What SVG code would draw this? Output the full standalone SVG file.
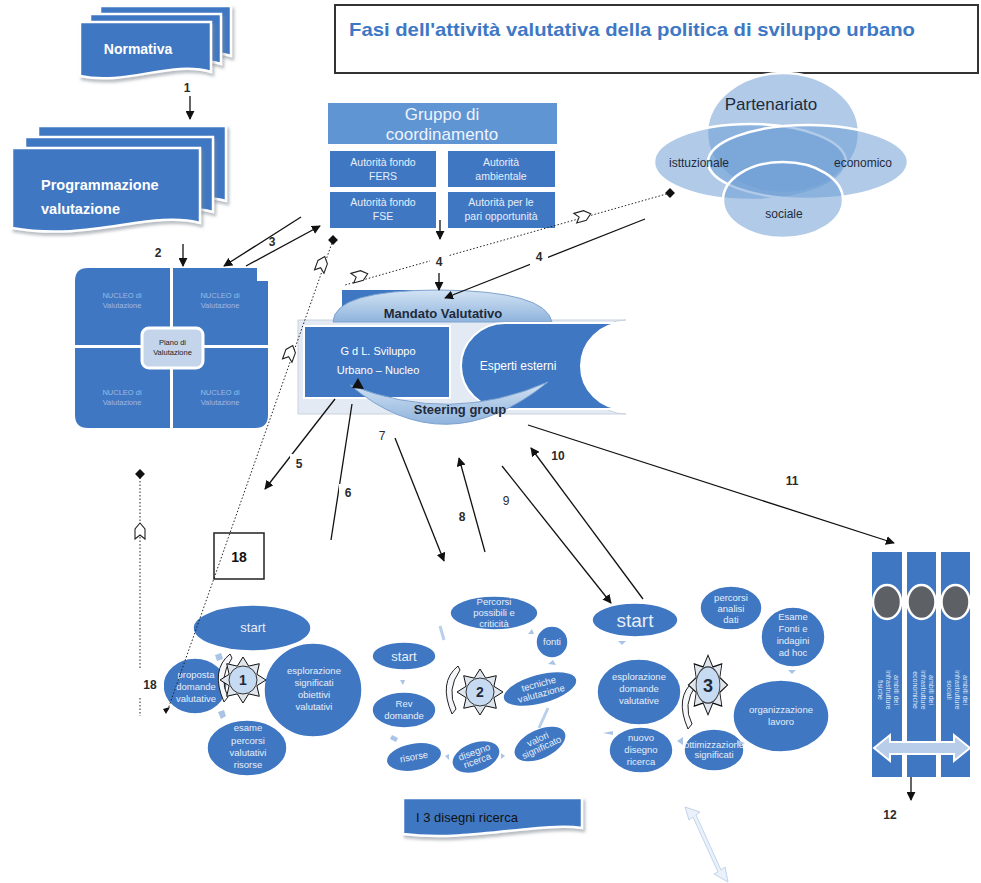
<svg xmlns="http://www.w3.org/2000/svg" width="981" height="883" viewBox="0 0 981 883">
<defs>
<style>
text{font-family:"Liberation Sans","DejaVu Sans",sans-serif}
.blue{fill:#3f77c2}
.doc{fill:#3f77c2;stroke:#ffffff;stroke-width:2.5;filter:url(#sh)}
.wt{fill:#ffffff;text-anchor:middle}
.wb{fill:#ffffff;font-weight:bold}
.lbl{fill:#2b2b2b;font-size:12px;font-weight:bold;text-anchor:middle}
.num{fill:#2b2b2b;font-size:12px;text-anchor:middle}
.ln{stroke:#111;stroke-width:1.3;fill:none}
.arr{marker-end:url(#ah)}
.dot{stroke:#222;stroke-width:1;stroke-dasharray:1.5 2;fill:none}
.cn{fill:#3f77c2;stroke:#ffffff;stroke-width:1.5}
.ct{fill:#e6eefa;font-size:9.5px;text-anchor:middle}
.par{fill:#6f9fd6;fill-opacity:0.55;stroke:#ffffff;stroke-width:2.5}
.nuc{fill:#3f77c2}
.nt{fill:#9dbbe6;font-size:7.5px;text-anchor:middle}
.faint{fill:#a9c4e6}
.chev{fill:#ffffff;stroke:#222;stroke-width:1.1}
</style>
<filter id="sh" x="-10%" y="-10%" width="130%" height="140%"><feDropShadow dx="2" dy="3" stdDeviation="1.5" flood-color="#7f8791" flood-opacity="0.55"/></filter>
<marker id="ah" viewBox="0 0 10 10" refX="9" refY="5" markerWidth="9" markerHeight="9" orient="auto" markerUnits="userSpaceOnUse"><path d="M0 0 L10 5 L0 10 Z" fill="#111"/></marker>
<polygon id="chv" points="-8,-5 2,-5 8,0 2,5 -8,5 -4,0" class="chev"/>
<rect id="dia" x="-3.5" y="-3.5" width="7" height="7" transform="rotate(45)" fill="#111"/>
<g id="sun">
<polygon points="23,0 13.9,5.7 16.3,16.3 5.7,13.9 0,23 -5.7,13.9 -16.3,16.3 -13.9,5.7 -23,0 -13.9,-5.7 -16.3,-16.3 -5.7,-13.9 0,-23 5.7,-13.9 16.3,-16.3 13.9,-5.7" fill="#dfe6ee" stroke="#111" stroke-width="1"/>
<circle r="14" fill="#c6daf1" stroke="#333" stroke-width="1"/>
</g>
<path id="crs" d="M0 -24 Q-20 -8 -6 24 L-2 19 Q-12 0 2 -20 Z" fill="#f4f6f9" stroke="#222" stroke-width="1"/>
<linearGradient id="bandg" x1="0" y1="0" x2="0" y2="1"><stop offset="0" stop-color="#d3e3f4"/><stop offset="1" stop-color="#8fb3dc"/></linearGradient>
</defs>

<rect width="981" height="883" fill="#ffffff"/>

<!-- Title -->
<g id="title">
<rect x="335" y="5" width="643" height="68" fill="#ffffff" stroke="#333" stroke-width="2"/>
<text x="349" y="36" font-size="19" font-weight="bold" fill="#3e78c5" textLength="566" lengthAdjust="spacingAndGlyphs">Fasi dell'attività valutativa della politica di sviluppo urbano</text>
</g>

<!-- Normativa -->
<g id="normativa">
<path class="doc" d="M100 6 H231 V56 C192 44 146 70 100 60 Z"/>
<path class="doc" d="M90 14 H221 V64 C182 52 136 78 90 68 Z"/>
<path class="doc" d="M80 22 H211 V72 C172 60 126 86 80 76 Z"/>
<text x="138" y="54" class="wb" font-size="14" text-anchor="middle">Normativa</text>
</g>

<!-- Programmazione -->
<g id="programmazione">
<path class="doc" d="M38 126 H226 V201 C176 188 116 220 38 206 Z"/>
<path class="doc" d="M25 137 H213 V212 C163 199 103 231 25 217 Z"/>
<path class="doc" d="M12 148 H200 V223 C150 210 90 242 12 228 Z"/>
<text x="41" y="190" class="wb" font-size="14.5">Programmazione</text>
<text x="41" y="214" class="wb" font-size="14.5">valutazione</text>
</g>

<!-- Nucleo grid -->
<g id="nucleo">
<path class="nuc" d="M75 281 Q75 268 88 268 H170 V345 H75 Z"/>
<path class="nuc" d="M173 268 H257 V281 H268 V345 H173 Z"/>
<path class="nuc" d="M75 348 H170 V428 H88 Q75 428 75 415 Z"/>
<path class="nuc" d="M173 348 H268 V415 Q268 428 255 428 H173 Z"/>
<text class="nt" x="122" y="298">NUCLEO di</text><text class="nt" x="122" y="308">Valutazione</text>
<text class="nt" x="220" y="298">NUCLEO di</text><text class="nt" x="220" y="308">Valutazione</text>
<text class="nt" x="122" y="395">NUCLEO di</text><text class="nt" x="122" y="405">Valutazione</text>
<text class="nt" x="220" y="395">NUCLEO di</text><text class="nt" x="220" y="405">Valutazione</text>
<rect x="142" y="328" width="61" height="40" rx="7" fill="#c3d4eb" stroke="#ffffff" stroke-width="3"/>
<text x="172.5" y="345" font-size="7.5" fill="#222" text-anchor="middle">Piano di</text>
<text x="172.5" y="355" font-size="7.5" fill="#222" text-anchor="middle">Valutazione</text>
</g>

<!-- Gruppo di coordinamento -->
<g id="gruppo">
<rect x="328" y="103" width="229" height="41" fill="#6095d4"/>
<text x="442" y="120" font-size="17" fill="#eef3fb" text-anchor="middle">Gruppo di</text>
<text x="442" y="140" font-size="17" fill="#eef3fb" text-anchor="middle">coordinamento</text>
<rect x="330" y="151" width="106" height="36" class="blue"/>
<rect x="448" y="151" width="107" height="36" class="blue"/>
<rect x="330" y="192" width="106" height="36" class="blue"/>
<rect x="448" y="192" width="107" height="36" class="blue"/>
<g class="ct">
<text x="383" y="166" font-size="10.5">Autorità fondo</text><text x="383" y="180" font-size="10.5">FERS</text>
<text x="501" y="166" font-size="10.5">Autorità</text><text x="501" y="180" font-size="10.5">ambientale</text>
<text x="383" y="206" font-size="10.5">Autorità fondo</text><text x="383" y="220" font-size="10.5">FSE</text>
<text x="501" y="206" font-size="10.5">Autorità per le</text><text x="501" y="220" font-size="10.5">pari opportunità</text>
</g>
</g>

<!-- Partenariato -->
<g id="partenariato">
<ellipse class="par" cx="783" cy="133" rx="76" ry="60"/>
<ellipse class="par" cx="750" cy="162" rx="96" ry="38"/>
<ellipse class="par" cx="808" cy="162" rx="100" ry="37"/>
<ellipse class="par" cx="783" cy="200" rx="60" ry="38"/>
<text x="771" y="110" font-size="17" fill="#1f2a3a" text-anchor="middle">Partenariato</text>
<text x="699" y="167" font-size="12" fill="#1f2a3a" text-anchor="middle">isttuzionale</text>
<text x="863" y="167" font-size="12" fill="#1f2a3a" text-anchor="middle">economico</text>
<text x="784" y="218" font-size="12" fill="#1f2a3a" text-anchor="middle">sociale</text>
</g>

<!-- Mandato / GdL / Esperti / Steering -->
<g id="mandato">
<path d="M298 320 H626 A45 47 0 0 0 626 414 H298 Z" fill="#e3eaf3" stroke="#c9d3df"/>
<rect x="342" y="290" width="76" height="32" class="blue"/>
<path d="M333 322 Q334 290 440 290 Q546 291 552 322 Z" fill="url(#bandg)" stroke="#7ea3cf" stroke-width="1"/>
<text x="443" y="318" font-size="13" font-weight="bold" fill="#1f2a3a" text-anchor="middle">Mandato Valutativo</text>
</g>
<g id="gdl">
<rect x="304" y="326" width="146" height="72" class="blue" stroke="#ffffff" stroke-width="2"/>
<text x="378" y="355" font-size="11" fill="#ffffff" text-anchor="middle">G d L. Sviluppo</text>
<text x="378" y="374" font-size="11" fill="#ffffff" text-anchor="middle">Urbano  – Nucleo</text>
</g>
<g id="esperti">
<path d="M505 323 H624 A43 43 0 0 0 624 409 H505 A44 43 0 0 1 505 323 Z" class="blue" stroke="#ffffff" stroke-width="2"/>
<text x="518" y="370" font-size="12" fill="#ffffff" text-anchor="middle">Esperti  esterni</text>
</g>
<g id="steering">
<path d="M350 385 Q445 465 548 382 Q450 425 350 385 Z" fill="url(#bandg)" stroke="#7ea3cf" stroke-width="1"/>
<path d="M352 388 L358 378 L364 389 Z" fill="#111"/>
<text x="460" y="414" font-size="13" font-weight="bold" fill="#1f2a3a" text-anchor="middle">Steering group</text>
</g>

<!-- Cycle 1 -->
<g id="cycle1">
<ellipse class="cn" cx="252" cy="628" rx="59" ry="23"/>
<ellipse class="cn" cx="195" cy="686" rx="32" ry="28"/>
<ellipse class="cn" cx="313" cy="690" rx="49" ry="47"/>
<ellipse class="cn" cx="247" cy="748" rx="40" ry="28"/>
<text x="253" y="632" font-size="13" fill="#e6eefa" text-anchor="middle">start</text>
<text class="ct" x="196" y="678">proposta</text><text class="ct" x="196" y="690">domande</text><text class="ct" x="196" y="702">valutative</text>
<text class="ct" x="314" y="674">esplorazione</text><text class="ct" x="314" y="686">significati</text><text class="ct" x="314" y="698">obiettivi</text><text class="ct" x="314" y="710">valutativi</text>
<text class="ct" x="248" y="731">esame</text><text class="ct" x="248" y="744">percorsi</text><text class="ct" x="248" y="756">valutativi</text><text class="ct" x="248" y="768">risorse</text>
<path class="faint" d="M215 655 l6 -2 l2 6 l-6 2 Z"/>
<path class="faint" d="M218 712 l6 -2 l2 6 l-5 3 Z"/>
<use href="#crs" x="230" y="678"/>
<use href="#sun" x="243" y="680"/>
<text x="243" y="685" font-size="14" font-weight="bold" fill="#1f2a3a" text-anchor="middle">1</text>
</g>

<!-- Cycle 2 -->
<g id="cycle2">
<ellipse class="cn" cx="494" cy="613" rx="44" ry="17"/>
<ellipse class="cn" cx="552" cy="642" rx="16" ry="16"/>
<ellipse class="cn" cx="404" cy="656" rx="32" ry="14"/>
<ellipse class="cn" cx="404" cy="710" rx="32" ry="18"/>
<ellipse class="cn" cx="540" cy="689" rx="38" ry="15" transform="rotate(-15 540 689)"/>
<ellipse class="cn" cx="540" cy="744" rx="28" ry="15" transform="rotate(-25 540 744)"/>
<ellipse class="cn" cx="476" cy="757" rx="25" ry="15" transform="rotate(-20 476 757)"/>
<ellipse class="cn" cx="414" cy="757" rx="28" ry="14" transform="rotate(-10 414 757)"/>
<text class="ct" x="494" y="605" font-size="8.5">Percorsi</text><text class="ct" x="494" y="616" font-size="8.5">possibili e</text><text class="ct" x="494" y="627" font-size="8.5">criticità</text>
<text class="ct" x="552" y="645" font-size="8.5">fonti</text>
<text x="404" y="661" font-size="13" fill="#e6eefa" text-anchor="middle">start</text>
<text class="ct" x="404" y="707">Rev</text><text class="ct" x="404" y="719">domande</text>
<g transform="rotate(-15 540 689)"><text class="ct" x="540" y="687" font-size="8.5">tecniche</text><text class="ct" x="540" y="697" font-size="8.5">valutazione</text></g>
<g transform="rotate(-25 540 744)"><text class="ct" x="540" y="742" font-size="7.5">valori</text><text class="ct" x="540" y="751" font-size="7.5">significato</text></g>
<g transform="rotate(-20 476 757)"><text class="ct" x="476" y="755" font-size="7.5">disegno</text><text class="ct" x="476" y="764" font-size="7.5">ricerca</text></g>
<g transform="rotate(-10 414 757)"><text class="ct" x="414" y="760" font-size="7.5">risorse</text></g>
<path d="M440 626 L444 640" stroke="#b9cfea" stroke-width="3"/>
<path d="M548 708 L539 728" stroke="#b9cfea" stroke-width="3"/>
<path class="faint" d="M400 680 l5 0 l-2 5 Z"/>
<path class="faint" d="M392 735 l6 3 l-2 4 l-6 -3 Z"/>
<path class="faint" d="M445 756 l4 -2 l0 6 Z"/>
<path class="faint" d="M505 756 l-4 -3 l0 6 Z"/>
<path class="faint" d="M548 664 l5 -4 l3 5 Z"/>
<path class="faint" d="M528 634 l6 0 l-2 -5 Z"/>
<use href="#crs" x="458" y="690"/>
<use href="#sun" x="480" y="692"/>
<text x="480" y="697" font-size="14" font-weight="bold" fill="#1f2a3a" text-anchor="middle">2</text>
</g>

<!-- Cycle 3 -->
<g id="cycle3">
<ellipse class="cn" cx="635" cy="620" rx="43" ry="17"/>
<ellipse class="cn" cx="731" cy="608" rx="31" ry="22"/>
<ellipse class="cn" cx="793" cy="637" rx="32" ry="30"/>
<ellipse class="cn" cx="639" cy="692" rx="42" ry="33"/>
<ellipse class="cn" cx="781" cy="716" rx="48" ry="36"/>
<ellipse class="cn" cx="641" cy="750" rx="32" ry="23"/>
<ellipse class="cn" cx="714" cy="750" rx="30" ry="21"/>
<text x="635" y="627" font-size="19" fill="#e6eefa" text-anchor="middle">start</text>
<text class="ct" x="731" y="601">percorsi</text><text class="ct" x="731" y="612">analisi</text><text class="ct" x="731" y="623">dati</text>
<text class="ct" x="793" y="620">Esame</text><text class="ct" x="793" y="632">Fonti e</text><text class="ct" x="793" y="644">indagini</text><text class="ct" x="793" y="656">ad hoc</text>
<text class="ct" x="639" y="680">esplorazione</text><text class="ct" x="639" y="692">domande</text><text class="ct" x="639" y="704">valutative</text>
<text class="ct" x="781" y="713">organizzazione</text><text class="ct" x="781" y="725">lavoro</text>
<text class="ct" x="641" y="741">nuovo</text><text class="ct" x="641" y="753">disegno</text><text class="ct" x="641" y="765">ricerca</text>
<text class="ct" x="714" y="748" font-size="7.5">ottimizzazione</text><text class="ct" x="714" y="758" font-size="7.5">significati</text>
<path class="faint" d="M618 641 h8 l-4 4 Z"/>
<path class="faint" d="M603 733 l10 -2 l0 4 Z"/>
<path class="faint" d="M677 741 l6 -4 l0 8 Z"/>
<path class="faint" d="M745 743 l-8 -3 l0 6 Z"/>
<path class="faint" d="M788 670 h8 l-4 4 Z"/>
<use href="#crs" x="694" y="705"/>
<g transform="translate(708 685) scale(0.85 1.3)"><use href="#sun"/></g>
<text x="708" y="692" font-size="18" font-weight="bold" fill="#1f2a3a" text-anchor="middle">3</text>
</g>

<!-- Right columns -->
<g id="ambiti">
<rect x="872" y="552" width="30" height="225" class="blue"/>
<rect x="907" y="552" width="29" height="225" class="blue"/>
<rect x="941" y="552" width="29" height="225" class="blue"/>
<ellipse cx="887" cy="602" rx="14" ry="17" fill="#5d6166" stroke="#ffffff" stroke-width="2.5"/>
<ellipse cx="921.5" cy="602" rx="14" ry="17" fill="#5d6166" stroke="#ffffff" stroke-width="2.5"/>
<ellipse cx="955.5" cy="602" rx="14" ry="17" fill="#5d6166" stroke="#ffffff" stroke-width="2.5"/>
<g font-size="7" fill="#dfe9f7" text-anchor="middle">
<text transform="translate(887 690) rotate(90)"><tspan x="0" y="-7">ambiti dei</tspan><tspan x="0" y="1">infrastrutture</tspan><tspan x="0" y="9">fisiche</tspan></text>
<text transform="translate(921.5 690) rotate(90)"><tspan x="0" y="-7">ambiti dei</tspan><tspan x="0" y="1">infrastrutture</tspan><tspan x="0" y="9">economiche</tspan></text>
<text transform="translate(955.5 690) rotate(90)"><tspan x="0" y="-7">ambiti dei</tspan><tspan x="0" y="1">infrastrutture</tspan><tspan x="0" y="9">sociali</tspan></text>
</g>
<path d="M874 748 L890 735 L890 742 L954 742 L954 735 L970 748 L954 761 L954 754 L890 754 L890 761 Z" fill="#b7cdea" stroke="#ffffff" stroke-width="2"/>
</g>

<!-- Bottom box -->
<g id="disegni">
<path class="doc" d="M403 798 H582 V828 C540 822 470 842 403 834 Z"/>
<text x="416" y="822" font-size="13" fill="#111">I  3 disegni ricerca</text>
</g>
<g id="dblarrow">
<path d="M685 807 L700 812 L696 815 L721 870 L725 867 L728 882 L714 874 L718 872 L693 817 L689 820 Z" fill="#eaf1fa" stroke="#c2d4ea" stroke-width="1"/>
</g>

<!-- Box 18 -->
<g id="box18">
<rect x="214" y="533" width="50" height="46" fill="#ffffff" stroke="#222" stroke-width="1.5"/>
<text x="239" y="562" font-size="14" font-weight="bold" fill="#111" text-anchor="middle">18</text>
</g>

<!-- Connectors -->
<g id="connectors">
<line class="ln arr" x1="190" y1="96" x2="190" y2="119"/>
<line class="ln arr" x1="183" y1="244" x2="183" y2="266"/>
<line class="ln arr" x1="301" y1="217" x2="224" y2="266"/>
<line class="ln arr" x1="246" y1="266" x2="320" y2="226"/>
<line class="ln arr" x1="440" y1="220" x2="440" y2="239"/>
<line class="ln arr" x1="439" y1="273" x2="439" y2="290"/>
<line class="ln arr" x1="645" y1="219" x2="445" y2="298"/>
<line class="ln arr" x1="335" y1="399" x2="265" y2="489"/>
<line class="ln" x1="352" y1="404" x2="331" y2="540"/>
<line class="ln arr" x1="395" y1="438" x2="444" y2="561"/>
<line class="ln arr" x1="485" y1="552" x2="459" y2="458"/>
<line class="ln arr" x1="502" y1="466" x2="611" y2="603"/>
<line class="ln arr" x1="643" y1="599" x2="531" y2="448"/>
<line class="ln arr" x1="528" y1="425" x2="894" y2="543"/>
<line class="ln arr" x1="911" y1="777" x2="911" y2="800"/>
<line class="dot" x1="670" y1="193" x2="345" y2="285"/>
<line class="dot" x1="333" y1="240" x2="167" y2="712"/>
<path d="M163 709 L170 707 L166 714 Z" fill="#111"/>
<line class="dot" x1="140" y1="474" x2="140" y2="716"/>
<use href="#dia" x="670" y="193"/>
<use href="#dia" x="333" y="240"/>
<use href="#dia" x="140" y="474"/>
<g transform="translate(583 216) rotate(-16)"><use href="#chv"/></g>
<g transform="translate(360 276) rotate(-16)"><use href="#chv"/></g>
<g transform="translate(322 264) rotate(-70)"><use href="#chv"/></g>
<g transform="translate(290 353) rotate(-70)"><use href="#chv"/></g>
<g transform="translate(140 531) rotate(-90)"><use href="#chv"/></g>
</g>

<!-- Labels -->
<g id="labels">
<rect x="180" y="80" width="14" height="14" fill="#ffffff"/><text class="lbl" x="187" y="92" font-size="10">1</text>
<text class="lbl" x="158" y="257">2</text>
<text class="lbl" x="272" y="246">3</text>
<rect x="430" y="252" width="18" height="18" fill="#ffffff"/><text class="lbl" x="439" y="266">4</text>
<rect x="530" y="248" width="18" height="18" fill="#ffffff"/><text class="lbl" x="539" y="261">4</text>
<rect x="290" y="454" width="18" height="18" fill="#ffffff"/><text class="lbl" x="299" y="468">5</text>
<rect x="339" y="484" width="18" height="18" fill="#ffffff"/><text class="lbl" x="348" y="497">6</text>
<text class="num" x="382" y="440">7</text>
<rect x="453" y="507" width="18" height="20" fill="#ffffff"/><text class="lbl" x="462" y="521">8</text>
<text class="num" x="506" y="505">9</text>
<rect x="545" y="446" width="26" height="20" fill="#ffffff"/><text class="lbl" x="558" y="460">10</text>
<text class="lbl" x="792" y="485">11</text>
<rect x="134" y="670" width="30" height="28" fill="#ffffff"/><text class="lbl" x="150" y="689" font-size="13">18</text>
<text class="lbl" x="890" y="819">12</text>
</g>
</svg>
